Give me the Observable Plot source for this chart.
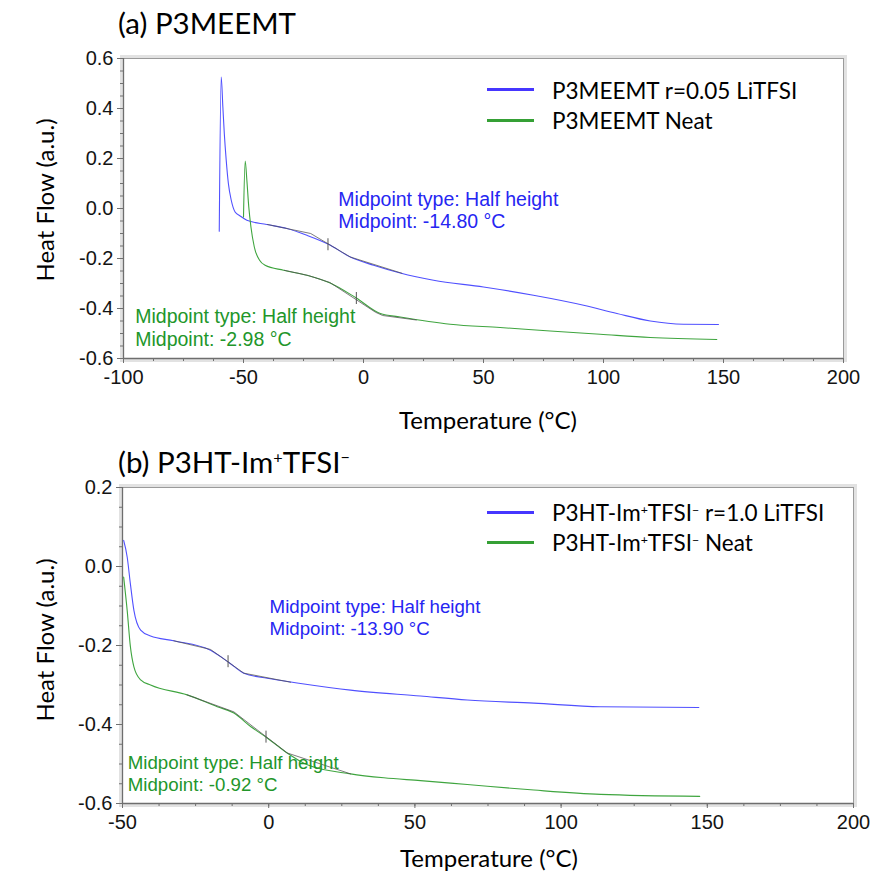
<!DOCTYPE html>
<html><head><meta charset="utf-8">
<script src="https://cdn.jsdelivr.net/npm/d3@7"></script>
<script src="https://cdn.jsdelivr.net/npm/@observablehq/plot@0.6"></script>
<style>
body{margin:0;background:#fff;}
#page{position:relative;width:872px;height:875px;overflow:hidden;background:#fff;}
.chart{position:absolute;left:0;}
.t{position:absolute;white-space:nowrap;font-family:Lato,"Noto Sans",sans-serif;color:#000;line-height:1.2;}
.sup{font-size:0.55em;position:relative;top:-0.6em;}
.sw{position:absolute;height:3px;width:47px;}
</style></head><body><div id="page"></div>
<script>
// ---------- data ----------
// (a) P3MEEMT
const aLiT  = [-60.1,-59.3,-58.6,-58.0,-57.2,-56.3,-55.1,-53.5,-51.4,-48.6,-40.3,-31.9,-23.6,-14.6,-5.5,4.2,15.3,29.2,50.0,70.8,91.7,105.6,119.5,133.3,147.9];
const aLiV  = [-0.091,0.526,0.406,0.300,0.193,0.100,0.033,-0.014,-0.030,-0.047,-0.064,-0.080,-0.107,-0.143,-0.194,-0.227,-0.258,-0.287,-0.314,-0.347,-0.387,-0.420,-0.450,-0.463,-0.464];
const aNeatT = [-50.0,-49.3,-48.6,-47.8,-46.9,-45.5,-43.3,-41.0,-33.3,-23.6,-13.9,-3.0,7.0,15.3,36.1,56.9,77.8,98.6,119.5,147.2];
const aNeatV = [-0.034,0.190,0.113,0.006,-0.074,-0.154,-0.207,-0.227,-0.247,-0.267,-0.298,-0.358,-0.420,-0.434,-0.463,-0.476,-0.490,-0.503,-0.516,-0.524];
const aLiTanT = [-40.0,-22.0,-5.5,16.0];
const aLiTanV = [-0.064,-0.100,-0.194,-0.259];
const aNeatTanT = [-33.0,-23.0,-14.0,5.0,8.0,22.0];
const aNeatTanV = [-0.247,-0.268,-0.296,-0.415,-0.428,-0.446];
const aMidT = [-14.80,-2.98];
const aMidV = [-0.145,-0.360];
const aNotes = ["Midpoint type: Half height\nMidpoint: -14.80 °C","Midpoint type: Half height\nMidpoint: -2.98 °C"];
const aNoteT = [-10.5,-95.1];
const aNoteV = [-0.006,-0.475];

// (b) P3HT-Im+TFSI-
const bLiT  = [-49.6,-48.4,-47.3,-46.1,-43.8,-40.4,-32.5,-19.9,-13.6,-8.5,-0.5,10.9,28.0,51.9,67.9,90.7,113.5,147.1];
const bLiV  = [0.066,0.024,-0.044,-0.111,-0.161,-0.176,-0.188,-0.212,-0.243,-0.270,-0.283,-0.296,-0.313,-0.328,-0.338,-0.346,-0.355,-0.357];
const bNeatT = [-49.6,-48.4,-47.3,-46.1,-43.8,-40.4,-27.9,-17.6,-11.9,-6.2,-0.5,6.3,13.2,28.0,39.4,51.9,67.9,90.7,113.5,147.4];
const bNeatV = [-0.027,-0.111,-0.203,-0.254,-0.287,-0.300,-0.325,-0.355,-0.371,-0.405,-0.434,-0.472,-0.502,-0.525,-0.535,-0.542,-0.552,-0.566,-0.577,-0.582];
const bLiTanT = [-32.5,-19.9,-8.5,7.5];
const bLiTanV = [-0.188,-0.210,-0.270,-0.293];
const bNeatTanT = [-27.9,-11.9,6.3,28.0];
const bNeatTanV = [-0.325,-0.368,-0.472,-0.525];
const bMidT = [-13.90,-0.92];
const bMidV = [-0.241,-0.432];
const bNotes = ["Midpoint type: Half height\nMidpoint: -13.90 °C","Midpoint type: Half height\nMidpoint: -0.92 °C"];
const bNoteT = [0.3,-48.2];
const bNoteV = [-0.128,-0.523];

// ticks
const aXTicks = [-100,-50,0,50,100,150,200];
const aYTicks = [-0.6,-0.4,-0.2,0.0,0.2,0.4,0.6];
const bXTicks = [-50,0,50,100,150,200];
const bYTicks = [-0.6,-0.4,-0.2,0.0,0.2];

// labels
const seriesColors = ["#5050ff","#3fa53f"];
const legendColors = ["#4636ff","#35a035"];
const noteColors = ["#2626f2","#22962a"];
const xTitle = "Temperature (°C)";
const yTitle = "Heat Flow (a.u.)";
const aTitle = "(a) P3MEEMT";
const bTitle = '(b) P3HT-Im<span class="sup">+</span>TFSI<span class="sup">−</span>';
const aLegend = ["P3MEEMT r=0.05 LiTFSI","P3MEEMT Neat"];
const bLegend = ['P3HT-Im<span class="sup">+</span>TFSI<span class="sup">−</span> r=1.0 LiTFSI','P3HT-Im<span class="sup">+</span>TFSI<span class="sup">−</span> Neat'];

// ---------- helpers ----------
const zip = (T, V) => T.map((t, i) => ({t, v: V[i]}));
const notesTable = (txt, T, V) => txt.map((s, i) => ({text: s, t: T[i], v: V[i], c: noteColors[i]}));

function chart(o) {
  return Plot.plot({
    width: 872, height: o.height,
    marginLeft: o.ml, marginRight: o.mr, marginTop: o.mt, marginBottom: o.mb,
    x: {domain: o.xd},
    y: {domain: o.yd},
    style: {fontFamily: "'Liberation Sans', Arial, sans-serif", background: "transparent", overflow: "visible"},
    marks: [
      Plot.frame({stroke: "#e2e2e2", strokeWidth: 3, inset: -2}),
      Plot.frame({stroke: "#9a9a9a"}),
      Plot.ruleX([o.xd[0]], {stroke: "#6e6e6e", strokeWidth: 1.3}),
      Plot.ruleY([o.yd[0]], {stroke: "#6e6e6e", strokeWidth: 1.3}),
      Plot.axisY(d3.range(o.yd[0], o.yd[1] + 1e-9, 0.05), {tickSize: 3, tickFormat: () => "", stroke: "#707070", label: null}),
      Plot.axisY(o.yt, {tickSize: 6, tickPadding: 4, tickFormat: d => d.toFixed(1), fontSize: 20, fill: "#141414", stroke: "#707070", label: null}),
      Plot.axisX(d3.range(o.xd[0], o.xd[1] + 1e-9, 12.5), {tickSize: 3, tickFormat: () => "", stroke: "#707070", label: null}),
      Plot.axisX(o.xt, {tickSize: 5, tickPadding: 6, tickFormat: d => String(d), fontSize: 20, fill: "#141414", stroke: "#707070", label: null}),
      Plot.line(o.s1, {x: "t", y: "v", stroke: seriesColors[0], strokeWidth: 1.1, curve: "monotone-x"}),
      Plot.line(o.s2, {x: "t", y: "v", stroke: seriesColors[1], strokeWidth: 1.1, curve: "monotone-x"}),
      Plot.line(o.tan1, {x: "t", y: "v", stroke: "#505050", strokeWidth: 1, strokeOpacity: 0.75}),
      Plot.line(o.tan2, {x: "t", y: "v", stroke: "#505050", strokeWidth: 1, strokeOpacity: 0.75}),
      Plot.ruleX(o.mids, {x: "t", y1: "v", y2: "v", insetTop: -6, insetBottom: -6, stroke: "#555"}),
      Plot.text(o.notes, {x: "t", y: "v", text: "text", fill: "c", textAnchor: "start", lineAnchor: "middle", lineHeight: 1.15, fontSize: o.noteSize})
    ]
  });
}

const page = document.getElementById("page");

const chartA = chart({
  height: 440, ml: 123, mr: 29, mt: 58, mb: 82,
  xd: [-100, 200], yd: [-0.6, 0.6], xt: aXTicks, yt: aYTicks,
  s1: zip(aLiT, aLiV), s2: zip(aNeatT, aNeatV),
  tan1: zip(aLiTanT, aLiTanV), tan2: zip(aNeatTanT, aNeatTanV),
  mids: zip(aMidT, aMidV), notes: notesTable(aNotes, aNoteT, aNoteV), noteSize: 19.5
});
chartA.classList.add("chart"); chartA.style.top = "0px";
page.appendChild(chartA);

const chartB = chart({
  height: 435, ml: 122, mr: 19, mt: 47, mb: 72,
  xd: [-50, 200], yd: [-0.6, 0.2], xt: bXTicks, yt: bYTicks,
  s1: zip(bLiT, bLiV), s2: zip(bNeatT, bNeatV),
  tan1: zip(bLiTanT, bLiTanV), tan2: zip(bNeatTanT, bNeatTanV),
  mids: zip(bMidT, bMidV), notes: notesTable(bNotes, bNoteT, bNoteV), noteSize: 18.7
});
chartB.classList.add("chart"); chartB.style.top = "440px";
page.appendChild(chartB);

function txt(html, x, y, size, opts = {}) {
  const d = document.createElement("div");
  d.className = "t";
  d.innerHTML = html;
  d.style.left = x + "px";
  d.style.top = y + "px";
  d.style.fontSize = size + "px";
  d.style.transform = opts.rotate ? "translate(-50%,-50%) rotate(-90deg)" : (opts.center ? "translate(-50%,-50%)" : "translate(0,-50%)");
  page.appendChild(d);
  return d;
}
function swatch(x, y, color) {
  const d = document.createElement("div");
  d.className = "sw";
  d.style.left = x + "px";
  d.style.top = (y - 1.5) + "px";
  d.style.background = color;
  page.appendChild(d);
}

// titles
txt(aTitle, 118, 23, 29.5);
txt(bTitle, 118, 462, 29.5);
// axis titles
txt(xTitle, 488, 420, 24, {center: true});
txt(xTitle, 489, 858, 24, {center: true});
txt(yTitle, 45, 200, 24, {rotate: true});
txt(yTitle, 45, 640, 24, {rotate: true});
// legends
swatch(487, 89.5, legendColors[0]); txt(aLegend[0], 552, 89.5, 22.5);
swatch(487, 120, legendColors[1]); txt(aLegend[1], 552, 120, 22.5);
swatch(487, 512, legendColors[0]); txt(bLegend[0], 552, 512, 22.5);
swatch(487, 542, legendColors[1]); txt(bLegend[1], 552, 542, 22.5);
</script></body></html>
